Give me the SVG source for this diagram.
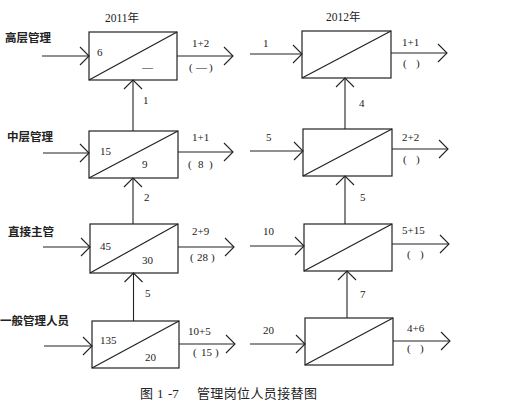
<svg xmlns="http://www.w3.org/2000/svg" width="508" height="409" viewBox="0 0 508 409">
<defs>
<marker id="ch" markerUnits="userSpaceOnUse" markerWidth="20" markerHeight="20" viewBox="-10 -10 20 20" refX="0" refY="0" orient="auto" overflow="visible">
<path d="M-9,-9 L0,0 L-9,9" fill="none" stroke="#222" stroke-width="1.1"/>
</marker>
</defs>
<style>
.b{fill:none;stroke:#222;stroke-width:1.2}
.c{fill:none;stroke:#222;stroke-width:1.1;marker-end:url(#ch)}
.n{font-family:"Liberation Serif",serif;font-size:11px;fill:#222}
.y{font-family:"Liberation Serif","Noto Sans CJK SC",serif;font-size:11.5px;fill:#222}
.z{font-family:"Liberation Serif","Noto Sans CJK SC",serif;font-size:11.5px;fill:#222;font-weight:bold}
.cap{font-family:"Liberation Serif","Noto Sans CJK SC",serif;font-size:13px;fill:#222}
</style>
<rect width="508" height="409" fill="#fff"/>
<text class="y" x="105" y="22">2011年</text>
<text class="y" x="326" y="21">2012年</text>
<text class="z" x="5" y="42">高层管理</text>
<text class="z" x="7" y="141">中层管理</text>
<text class="z" x="8" y="236">直接主管</text>
<text class="z" x="0" y="325">一般管理人员</text>
<g id="connectors">
<line class="c" x1="42" y1="56" x2="89" y2="56"/>
<line class="c" x1="43" y1="153" x2="89" y2="153"/>
<line class="c" x1="43" y1="247" x2="90" y2="247"/>
<line class="c" x1="44" y1="346" x2="92" y2="346"/>
<line class="c" x1="177" y1="56" x2="233" y2="56"/>
<line class="c" x1="178" y1="152" x2="233" y2="152"/>
<line class="c" x1="178" y1="247" x2="234" y2="247"/>
<line class="c" x1="179" y1="344" x2="235" y2="344"/>
<line class="c" x1="133" y1="131" x2="133" y2="80"/>
<line class="c" x1="133" y1="224" x2="133" y2="178"/>
<line class="c" x1="133.5" y1="321" x2="133.5" y2="273"/>
<line class="c" x1="250" y1="54" x2="302" y2="54"/>
<line class="c" x1="250" y1="151" x2="303" y2="151"/>
<line class="c" x1="250" y1="246" x2="304" y2="246"/>
<line class="c" x1="250" y1="344" x2="305" y2="344"/>
<line class="c" x1="391" y1="53" x2="447" y2="53"/>
<line class="c" x1="392" y1="149" x2="448" y2="149"/>
<line class="c" x1="392" y1="244" x2="449" y2="244"/>
<line class="c" x1="393" y1="341" x2="450" y2="341"/>
<line class="c" x1="345" y1="129" x2="345" y2="78"/>
<line class="c" x1="345" y1="224" x2="345" y2="176"/>
<line class="c" x1="347" y1="318" x2="347" y2="271"/>
</g>
<g id="n2011a">
<rect class="b" x="89" y="32" width="88" height="48"/>
<line class="b" x1="89" y1="80" x2="177" y2="32"/>
<text class="n" x="97" y="56">6</text>
<text class="n" x="142" y="71">—</text>
</g>
<g id="n2011b">
<rect class="b" x="89" y="131" width="89" height="47"/>
<line class="b" x1="89" y1="178" x2="178" y2="131"/>
<text class="n" x="100" y="155">15</text>
<text class="n" x="142" y="168">9</text>
</g>
<g id="n2011c">
<rect class="b" x="90" y="224" width="88" height="49"/>
<line class="b" x1="90" y1="273" x2="178" y2="224"/>
<text class="n" x="100" y="250">45</text>
<text class="n" x="142" y="264">30</text>
</g>
<g id="n2011d">
<rect class="b" x="92" y="321" width="87" height="47"/>
<line class="b" x1="92" y1="368" x2="179" y2="321"/>
<text class="n" x="100" y="344">135</text>
<text class="n" x="145" y="361">20</text>
</g>
<g id="n2012a">
<rect class="b" x="302" y="31" width="89" height="47"/>
<line class="b" x1="302" y1="78" x2="391" y2="31"/>
</g>
<g id="n2012b">
<rect class="b" x="303" y="129" width="89" height="47"/>
<line class="b" x1="303" y1="176" x2="392" y2="129"/>
</g>
<g id="n2012c">
<rect class="b" x="304" y="224" width="88" height="47"/>
<line class="b" x1="304" y1="271" x2="392" y2="224"/>
</g>
<g id="n2012d">
<rect class="b" x="305" y="318" width="88" height="47"/>
<line class="b" x1="305" y1="365" x2="393" y2="318"/>
</g>
<g id="labels">
<text class="n" x="192" y="47">1+2</text>
<text class="n" y="71"><tspan x="189">(</tspan><tspan x="196">—</tspan><tspan x="209">)</tspan></text>
<text class="n" x="143" y="104">1</text>
<text class="n" x="192" y="141">1+1</text>
<text class="n" y="168"><tspan x="188">(</tspan><tspan x="198">8</tspan><tspan x="209">)</tspan></text>
<text class="n" x="144" y="201">2</text>
<text class="n" x="192" y="235">2+9</text>
<text class="n" y="261"><tspan x="190">(</tspan><tspan x="197">28</tspan><tspan x="211">)</tspan></text>
<text class="n" x="145" y="297">5</text>
<text class="n" x="188" y="335">10+5</text>
<text class="n" y="356"><tspan x="193">(</tspan><tspan x="201">15</tspan><tspan x="215">)</tspan></text>
<text class="n" x="263" y="47">1</text>
<text class="n" x="402" y="46">1+1</text>
<text class="n" y="67"><tspan x="403">(</tspan><tspan x="416">)</tspan></text>
<text class="n" x="359" y="107">4</text>
<text class="n" x="266" y="141">5</text>
<text class="n" x="402" y="141">2+2</text>
<text class="n" y="163"><tspan x="403">(</tspan><tspan x="416">)</tspan></text>
<text class="n" x="360" y="201">5</text>
<text class="n" x="263" y="235">10</text>
<text class="n" x="402" y="234">5+15</text>
<text class="n" y="258"><tspan x="407">(</tspan><tspan x="420">)</tspan></text>
<text class="n" x="360" y="298">7</text>
<text class="n" x="263" y="334">20</text>
<text class="n" x="407" y="332">4+6</text>
<text class="n" y="352"><tspan x="407">(</tspan><tspan x="420">)</tspan></text>
</g>
<text class="cap" y="398"><tspan x="140">图</tspan><tspan x="157">1</tspan><tspan x="168">-7</tspan><tspan x="197" textLength="120" lengthAdjust="spacing">管理岗位人员接替图</tspan></text>
</svg>
